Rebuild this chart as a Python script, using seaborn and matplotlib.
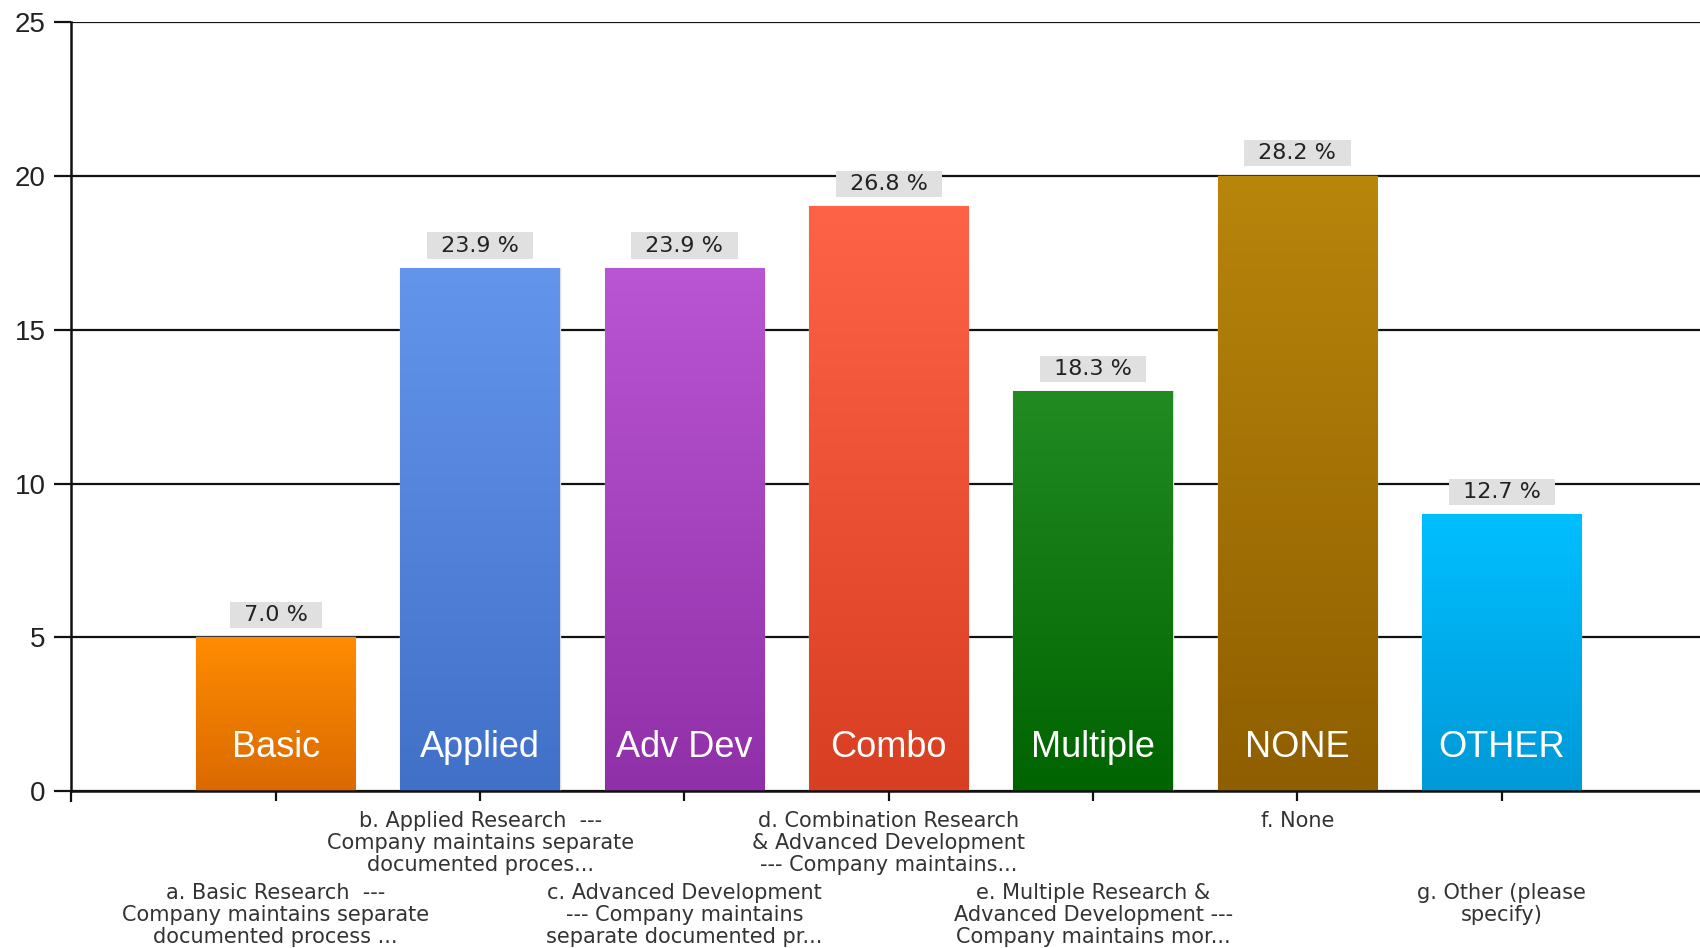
import matplotlib
matplotlib.use("Agg")
import matplotlib.pyplot as plt
import numpy as np
import pandas as pd
import seaborn as sns
from matplotlib.colors import LinearSegmentedColormap

# Data
short_names = ["Basic", "Applied", "Adv Dev", "Combo", "Multiple", "NONE", "OTHER"]
counts = [5, 17, 17, 19, 13, 20, 9]
percents = [7.0, 23.9, 23.9, 26.8, 18.3, 28.2, 12.7]
long_labels = [
    "a. Basic Research  ---\nCompany maintains separate\ndocumented process ...",
    "b. Applied Research  ---\nCompany maintains separate\ndocumented proces...",
    "c. Advanced Development\n--- Company maintains\nseparate documented pr...",
    "d. Combination Research\n& Advanced Development\n--- Company maintains...",
    "e. Multiple Research &\nAdvanced Development ---\nCompany maintains mor...",
    "f. None",
    "g. Other (please\nspecify)",
]
top_colors = ["#FF8C00", "#6495ED", "#BA55D3", "#FF6347", "#228B22", "#B8860B", "#00BFFF"]
bottom_colors = ["#DA6A00", "#4170C8", "#9030A8", "#D83E22", "#006400", "#8F5E00", "#0099D8"]
y_ticks = [0, 5, 10, 15, 20, 25]

df = pd.DataFrame({"name": short_names, "count": counts})

sns.set_style("white")
plt.rcParams["font.family"] = ["DejaVu Sans"]

fig = plt.figure(figsize=(17, 9.48), dpi=100)
ax = fig.add_axes([0.042, 0.1652, 0.958, 0.8119])

sns.barplot(data=df, x="name", y="count", hue="name", palette=top_colors,
            width=0.78, legend=False, ax=ax, edgecolor="#DDDDDD", linewidth=1, zorder=2)

# Gradient fill inside each bar
grad = np.linspace(0, 1, 256).reshape(-1, 1)
for bar, top, bot in zip(ax.patches, top_colors, bottom_colors):
    x0, w, h = bar.get_x(), bar.get_width(), bar.get_height()
    cmap = LinearSegmentedColormap.from_list("g", [bot, top])
    im = ax.imshow(grad, extent=[x0, x0 + w, 0, h], origin="lower", cmap=cmap,
                   aspect="auto", zorder=2.5)
    im.set_clip_path(bar)

for i, (name, c, p) in enumerate(zip(short_names, counts, percents)):
    ax.text(i, 1.42, name, ha="center", va="center", color="white",
            fontsize=26, family=["Liberation Sans", "DejaVu Sans"], zorder=4)
    ax.text(i, c + 0.73, f"\u2002{p:.1f} %\u2002", ha="center", va="center",
            color="#222222", fontsize=16, zorder=4,
            bbox=dict(boxstyle="square,pad=0.14", fc="#E0E0E0", ec="none"))

ax.set_xlim(-1, 6.97)
ax.set_ylim(0, 25)
ax.set_yticks(y_ticks)
ax.set_yticklabels([str(t) for t in y_ticks], fontsize=20, color="#222222",
                   family=["Liberation Sans", "DejaVu Sans"])
ax.set_xticks(range(len(long_labels)))
ax.set_xticklabels(long_labels, fontsize=15, color="#333333", linespacing=1.12)
ax.set_xticks([-1], minor=True)
ax.set_xlabel("")
ax.set_ylabel("")

ax.set_axisbelow(True)
ax.yaxis.grid(True, color="#111111", linewidth=1.6)
ax.xaxis.grid(False)
for s in ["top", "right"]:
    ax.spines[s].set_visible(False)
for s in ["left", "bottom"]:
    ax.spines[s].set_color("#111111")
    ax.spines[s].set_linewidth(1.8)

ax.tick_params(axis="y", length=12.6, width=1.6, color="#111111", pad=6, left=True)
ax.tick_params(axis="x", which="both", length=7, width=1.6, color="#111111", pad=7, bottom=True)
ax.tick_params(axis="x", which="minor", length=8)

# Stagger the category labels in two rows
for i, tick in enumerate(ax.xaxis.get_major_ticks()):
    if i % 2 == 0:
        tick.set_pad(59)

fig.savefig("out.png", dpi=100)
